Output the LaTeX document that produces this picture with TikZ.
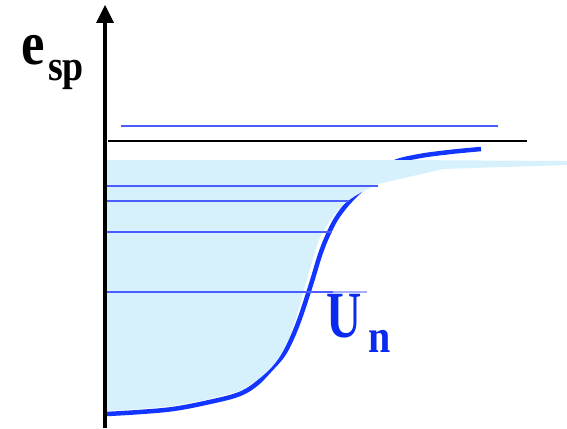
\documentclass[tikz,border=0pt]{standalone}
\usepackage{fontspec}
\setmainfont{Liberation Serif}
\definecolor{curveblue}{HTML}{1236FF}
\definecolor{lineblue}{HTML}{4A5EFF}
\definecolor{textblue}{HTML}{0A2AF0}
\definecolor{wellfill}{HTML}{D6F0FC}
\tikzset{
  level/.style={draw=lineblue, line width=1.8pt},
  potential/.style={draw=curveblue, line width=4.5pt, line cap=butt},
  axisline/.style={draw=black, line width=4pt},
  lbl/.style={anchor=base west, inner sep=0pt, font=\bfseries}
}
\begin{document}
\begin{tikzpicture}[x=1pt,y=-1pt]
\useasboundingbox (0,0) rectangle (567,428);
% potential curve
\draw[potential] plot[smooth, tension=0.6] coordinates {
  (107,414) (140,412) (173,409) (205,403) (237,395) (255,385) (270,370)
  (283,355) (292,338) (300,318) (307,297) (313,278) (320,255) (327,237)
  (336,219) (348,203) (363,188) (380,172) (395,162) (420,156) (450,152) (481,149)};
% well fill
\fill[wellfill] (107,160) -- (395,160) -- (567,161) -- (567,165) -- (443,169)
  -- plot[smooth, tension=0.6] coordinates {(378,184) (355,196) (340,208) (329,222) (319,240)
  (312,262) (304,290) (296,318) (287,343) (276,362) (260,378) (240,391)}
  -- (205,400) -- (173,406) -- (140,409) -- (107,411) -- cycle;
% levels
\coordinate (l0a) at (121,126); \coordinate (l0b) at (498,126);
\draw[level] (l0a) -- (l0b);
\coordinate (zla) at (108,141); \coordinate (zlb) at (527,141);
\draw[black, line width=1.5pt] (zla) -- (zlb);
\coordinate (l1a) at (106,186); \coordinate (l1b) at (378,186);
\draw[level] (l1a) -- (l1b);
\coordinate (l2a) at (106,201); \coordinate (l2b) at (349,201);
\draw[level] (l2a) -- (l2b);
\coordinate (l3a) at (106,232); \coordinate (l3b) at (332,232);
\draw[level] (l3a) -- (l3b);
\coordinate (l4a) at (106,292); \coordinate (l4b) at (333,292); \coordinate (l4c) at (367,292);
\draw[level] (l4a) -- (l4b);
\draw[level, draw opacity=0.5] (l4b) -- (l4c);
% axis
\coordinate (axb) at (105,428); \coordinate (axt) at (105,20);
\draw[axisline] (axb) -- (axt);
\fill[black] (96,23) -- (105,5) -- (114,23) -- cycle;
% labels
\node[lbl, font=\bfseries\fontsize{62}{62}\selectfont] (e) at (21,64) {\scalebox{0.85}[1]{e}};
\node[lbl, font=\bfseries\fontsize{43}{43}\selectfont] (sp) at (48,80) {\scalebox{0.88}[1]{sp}};
\node[lbl, text=textblue, font=\bfseries\fontsize{66}{66}\selectfont] (U) at (326,337) {\scalebox{0.74}[1]{U}};
\node[lbl, text=textblue, font=\bfseries\fontsize{47}{47}\selectfont] (n) at (368,352) {\scalebox{0.85}[1]{n}};
\end{tikzpicture}
\end{document}
